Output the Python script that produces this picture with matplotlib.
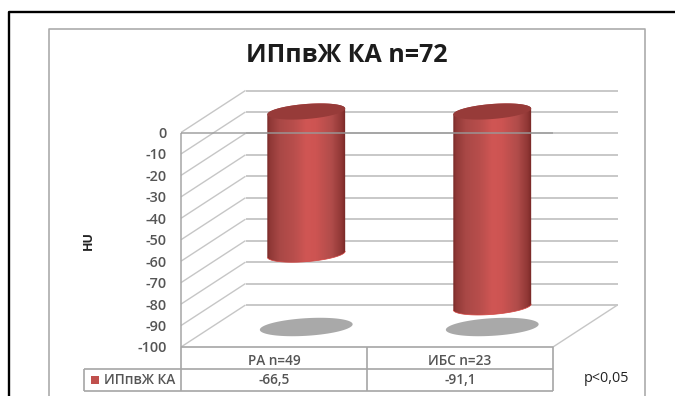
import numpy as np
import matplotlib
matplotlib.use("Agg")
import matplotlib.pyplot as plt
from matplotlib.colors import LinearSegmentedColormap
from matplotlib.path import Path
from matplotlib.patches import PathPatch, Rectangle
from matplotlib.transforms import Affine2D, IdentityTransform

# Chart data
categories = ["РА n=49", "ИБС n=23"]
values = [-66.5, -91.1]
value_labels = ["-66,5", "-91,1"]
y_ticks = [0, -10, -20, -30, -40, -50, -60, -70, -80, -90, -100]
series_name = "ИПпвЖ КА"
title_text = "ИПпвЖ КА n=72"
y_axis_label = "HU"
note_text = "p<0,05"

FONT = ["Open Sans", "Noto Sans", "DejaVu Sans"]
GRID = "#c6c6c6"
EDGE = "#a6a6a6"
TEXT = "#555555"
RED = "#c0504d"

W, H = 675, 396
fig = plt.figure(figsize=(W / 100, H / 100), dpi=100, facecolor="white")

# Axes sit on the front plane of the 3-D box; y runs from -100 to 0
ax = fig.add_axes([181 / W, (H - 347) / H, 372 / W, 214.5 / H])
ax.set_xlim(0, 2)
ax.set_ylim(-100, 0)
ax.patch.set_visible(False)
for s in ax.spines.values():
    s.set_visible(False)

# Pixel coordinates with origin at the top left, for frame and table furniture
px = Affine2D().scale(1, -1).translate(0, H)
DEPTH_X, DEPTH_Y = 64.5, 42
back = ax.transData + Affine2D().translate(DEPTH_X, DEPTH_Y)
mid = ax.transData + Affine2D().translate(DEPTH_X / 2, DEPTH_Y / 2)


def line(xs, ys, color=EDGE, lw=1.2, z=1, transform=px, **kw):
    ax.plot(xs, ys, color=color, lw=lw, zorder=z, transform=transform,
            clip_on=False, solid_capstyle="butt", **kw)


# Outer black frame and the chart's border
line([9, 9, 675], [396, 12, 12], color="black", lw=1.7, z=0)
line([49, 49, 645, 645], [396, 29, 29, 396], color="#ababab", lw=1.2, z=0)

# Back wall gridlines, left wall diagonals
for t in y_ticks:
    line([0, 2], [t, t], color=GRID, lw=1.35, z=1, transform=back)
    x0, y0 = ax.transData.transform((0, t))
    line([x0, x0 + DEPTH_X], [y0, y0 + DEPTH_Y], color=GRID, lw=1.0, z=1,
         transform=IdentityTransform())

# Front left edge and right edge of the floor
line([0, 0], [-100, 0], color=EDGE, lw=1.1, z=1, transform=ax.transData)
x1, y1 = ax.transData.transform((2, -100))
line([x1, x1 + DEPTH_X], [y1, y1 + DEPTH_Y], color=GRID, lw=1.0, z=1,
     transform=IdentityTransform())


def tilted_ellipse(cx, cy, a, b, tilt, t0=0.0, t1=2 * np.pi, n=80):
    """Points of an ellipse in display pixels, rotated by tilt degrees."""
    th = np.radians(tilt)
    t = np.linspace(t0, t1, n)
    ex, ey = a * np.cos(t), b * np.sin(t)
    return np.column_stack([cx + ex * np.cos(th) - ey * np.sin(th),
                            cy + ex * np.sin(th) + ey * np.cos(th)])


body_cmap = LinearSegmentedColormap.from_list(
    "cyl", [(0.0, "#762725"), (0.035, "#8f3836"), (0.16, "#a94846"),
            (0.34, "#b84e4c"), (0.5, "#d05654"), (0.62, "#cd5452"),
            (0.82, "#b04c4a"), (0.95, "#8f3634"), (1.0, "#742624")])
gradient = np.linspace(0, 1, 256)[None, :]

HALF_W_DATA = 0.21
TILT = 4.5
MINOR = 7.5

for i, v in enumerate(values):
    c = i + 0.5
    # Floor shadow
    sx, sy = mid.transform((c, -100))
    pts = tilted_ellipse(sx, sy - 1, 46.5, 8.8, 3.5)
    ax.add_patch(PathPatch(Path(pts), fc="#a9a9a9", ec="none", zorder=2,
                           transform=IdentityTransform(), clip_on=False))

    # Cylinder hanging from zero down to its value
    tx, ty = mid.transform((c, 0))
    bx, by = mid.transform((c, v))
    lx, _ = mid.transform((c - HALF_W_DATA, 0))
    rx, _ = mid.transform((c + HALF_W_DATA, 0))
    a = (rx - lx) / 2
    bottom_arc = tilted_ellipse(bx, by, a, MINOR, TILT, np.pi, 2 * np.pi)
    top_arc = tilted_ellipse(tx, ty, a, MINOR, TILT, 0, np.pi)
    outline = np.vstack([bottom_arc, top_arc, bottom_arc[:1]])
    im = ax.imshow(gradient, extent=(c - HALF_W_DATA, c + HALF_W_DATA, -110, 12),
                   cmap=body_cmap, aspect="auto", transform=mid, zorder=3,
                   interpolation="bilinear")
    im.set_clip_box(fig.bbox)
    im.set_clip_path(Path(outline), IdentityTransform())
    cap = tilted_ellipse(tx, ty, a, MINOR, TILT)
    ax.add_patch(PathPatch(Path(cap), fc="#973b39", ec="none", zorder=4,
                           transform=IdentityTransform(), clip_on=False))
    line(bottom_arc[:, 0], bottom_arc[:, 1], color="#d2403c", lw=0.5, z=4,
         transform=IdentityTransform())

ax.set_xlim(0, 2)
ax.set_ylim(-100, 0)

# Zero line of the front plane crosses over the cylinders
line([0, 2], [0, 0], color="#9a9a9a", lw=1.2, z=5, transform=ax.transData, alpha=0.85)

# Value axis
ax.set_yticks(y_ticks)
ax.set_yticklabels([str(t) for t in y_ticks], fontsize=10.4, color=TEXT,
                   family=FONT, fontweight="semibold")
ax.tick_params(axis="y", length=0, pad=10.5)
ax.set_xticks([])

# Data table below the plot
line([181, 553, 553], [347, 347, 391], z=1)
line([84, 553], [368.5, 368.5], z=1)
line([84, 553], [391, 391], z=1)
line([84, 84], [368.5, 391], z=1)
line([181, 181], [347, 391], z=1)
line([366.5, 366.5], [347, 391], z=1)

for i, (cat, lab) in enumerate(zip(categories, value_labels)):
    cx = ax.transData.transform((i + 0.5, 0))[0]
    ax.text(cx, H - 361, cat, transform=IdentityTransform(), ha="center",
            va="center", fontsize=9.8, color=TEXT, family=FONT, fontweight="semibold")
    ax.text(cx, H - 380, lab, transform=IdentityTransform(), ha="center",
            va="center", fontsize=9.8, color=TEXT, family=FONT, fontweight="semibold")

ax.add_patch(Rectangle((91, 376), 8, 8, fc=RED, ec="none", transform=px,
                       clip_on=False, zorder=2))
ax.text(104, 379.5, series_name, transform=px, ha="left", va="center",
        fontsize=9.8, color=TEXT, family=FONT, fontweight="semibold")

# Titles and the annotation
ax.text(347, 56, title_text, transform=px, ha="center", va="center",
        fontsize=18, fontweight="bold", color="#1c1c1c", family=FONT)
ax.text(88, 240, y_axis_label, transform=px, ha="center", va="center",
        rotation=90, fontsize=9, fontweight="bold", color="#222222", family=FONT)
ax.text(606.5, 378, note_text, transform=px, ha="center", va="center",
        fontsize=10.4, color="#222222", family=FONT)

fig.savefig("out.png", dpi=100, facecolor="white")
